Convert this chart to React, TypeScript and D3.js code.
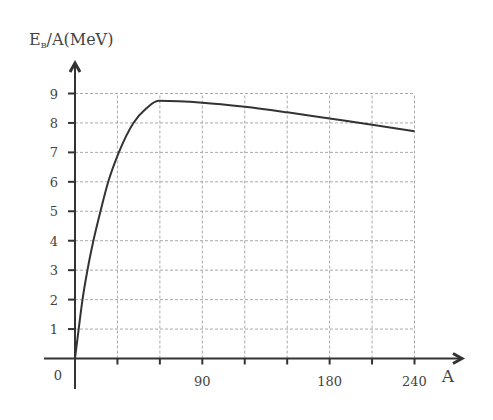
import * as d3 from 'd3'

// binding energy per nucleon
const massNumbers = [0, 2.6, 5.3, 8.8, 13, 18, 23.5, 31, 41.3, 50.5, 59, 90, 120, 150, 180, 210, 240]
const bindingEnergy = [0, 1, 2, 3, 4, 5, 6, 7, 8, 8.5, 8.75, 8.69, 8.55, 8.36, 8.15, 7.94, 7.72]
const xTicks = [30, 60, 90, 120, 150, 180, 210, 240]
const xTickLabels = [90, 180, 240]
const yTicks = [1, 2, 3, 4, 5, 6, 7, 8, 9]

const W = 493
const H = 420
const font = '"DejaVu Serif", serif'
const ink = '#333'

export default function App() {
  const x = d3.scaleLinear().domain([0, 240]).range([75, 414.5])
  const y = d3.scaleLinear().domain([0, 9]).range([358.5, 93.5])

  const pts = massNumbers.map((a, i) => [a, bindingEnergy[i]] as [number, number])
  const line = d3.line<[number, number]>()
    .x(d => x(d[0]))
    .y(d => y(d[1]))
    .curve(d3.curveMonotoneX)

  const x0 = x(0)
  const y0 = y(0)

  return (
    <svg width={W} height={H} style={{ position: 'absolute', left: 0, top: 0 }}>
      <rect width={W} height={H} fill="#fff" />

      {/* grid */}
      <g stroke="#aaa" strokeWidth={1} strokeDasharray="3,2">
        {yTicks.map(t => (
          <line key={'h' + t} x1={x0} x2={x(240)} y1={y(t)} y2={y(t)} />
        ))}
        {xTicks.map(t => (
          <line key={'v' + t} x1={x(t)} x2={x(t)} y1={y0} y2={y(9)} />
        ))}
      </g>

      {/* axes */}
      <g stroke={ink} strokeWidth={2} fill="none">
        <line x1={44} x2={461} y1={y0} y2={y0} />
        <line x1={x0} x2={x0} y1={389} y2={64} />
        <path d={`M${x0 - 5},${72} L${x0},${63} L${x0 + 5},${72}`} strokeWidth={3} strokeLinejoin="miter" />
        <path d={`M${453},${y0 - 5} L${462},${y0} L${453},${y0 + 5}`} strokeWidth={3} strokeLinejoin="miter" />
        {yTicks.map(t => (
          <line key={'yt' + t} x1={x0 - 7} x2={x0} y1={y(t)} y2={y(t)} />
        ))}
        {xTicks.map(t => (
          <line key={'xt' + t} x1={x(t)} x2={x(t)} y1={y0} y2={y0 + 6} />
        ))}
      </g>

      {/* curve */}
      <path d={line(pts) ?? ''} fill="none" stroke={ink} strokeWidth={2} />

      {/* labels */}
      <g fontFamily={font} fill="#444" fontSize={13}>
        {yTicks.map(t => (
          <text key={'yl' + t} x={58} y={y(t) + 5} textAnchor="end">{t}</text>
        ))}
        <text x={58} y={380} textAnchor="middle">0</text>
        {xTickLabels.map(t => (
          <text key={'xl' + t} x={x(t)} y={386} textAnchor="middle">{t}</text>
        ))}
        <text x={448} y={382} textAnchor="middle" fontSize={17}>A</text>
        <text x={29} y={45} fontSize={16}>
          E<tspan fontSize={8} dy={3}>B</tspan><tspan dy={-3}>/A(MeV)</tspan>
        </text>
      </g>
    </svg>
  )
}
